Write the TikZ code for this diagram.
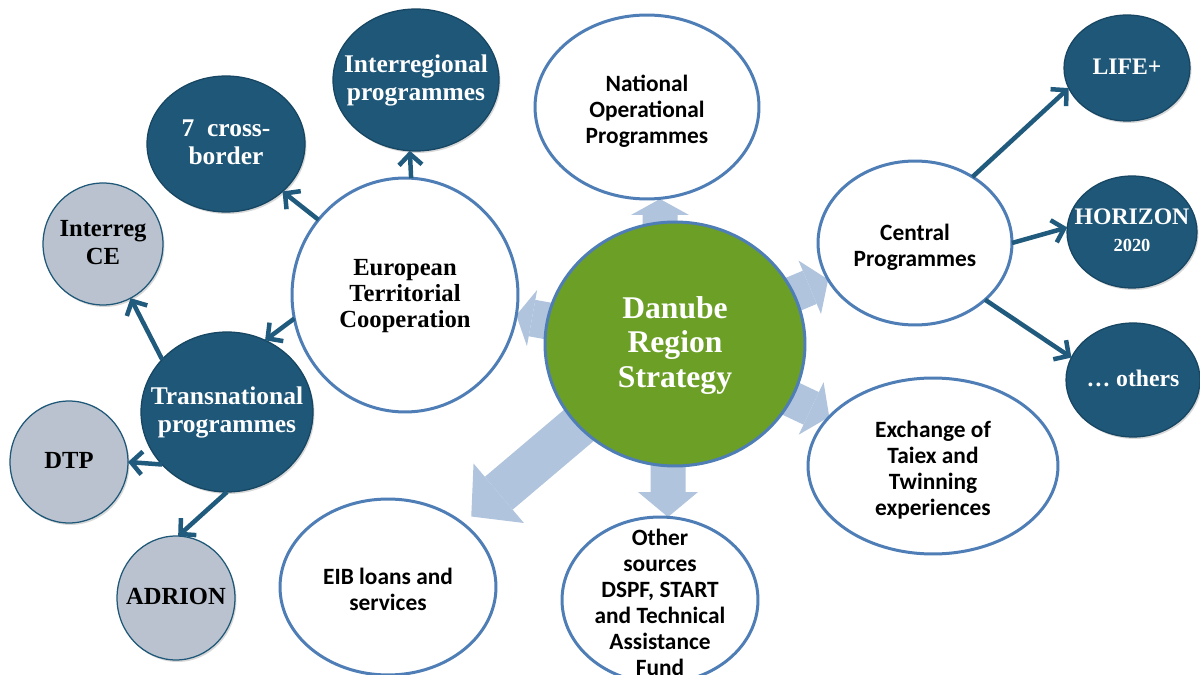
\documentclass[tikz,border=0pt]{standalone}
\usepackage{fontspec}
\setmainfont{Liberation Serif}
\newfontfamily\calib{Carlito}
\usetikzlibrary{arrows.meta,shapes.geometric,shadows}
\definecolor{darkblue}{HTML}{1E5778}
\definecolor{darkedge}{HTML}{174662}
\definecolor{greyfill}{HTML}{B9C2CE}
\definecolor{greenfill}{HTML}{6B9F26}
\definecolor{ringblue}{HTML}{4F7EB6}
\definecolor{blockblue}{HTML}{B0C4DE}
\definecolor{arrowdark}{HTML}{205A7D}
\pgfdeclarelayer{bg}
\pgfsetlayers{bg,main}
\newcommand\zr{-0.3em}
\newcommand\ztext[1]{\makebox[0pt]{\raisebox{\zr}[0pt][0pt]{\begin{tabular}{@{}c@{}}#1\end{tabular}}}}
\tikzset{
  base/.style={ellipse, inner sep=0pt, outer sep=0pt},
  whitenode/.style={base, draw=ringblue, line width=0.06cm, fill=white, text=black,
    font=\calib\bfseries\fontsize{13.3}{14.8}\selectfont\def\zr{-0.48em}},
  etcnode/.style={base, draw=ringblue, line width=0.06cm, fill=white, text=black,
    font=\bfseries\fontsize{14}{14.8}\selectfont},
  darknode/.style={base, draw=darkedge, line width=0.025cm, fill=darkblue, text=white,
    font=\bfseries\fontsize{14.5}{16}\selectfont,
    drop shadow={opacity=0.3, shadow xshift=0.03cm, shadow yshift=-0.04cm}},
  rightnode/.style={darknode, font=\bfseries\fontsize{13.5}{15.5}\selectfont},
  greynode/.style={base, draw=darkblue, line width=0.025cm, fill=greyfill, text=black,
    font=\bfseries\fontsize{14}{16}\selectfont,
    drop shadow={opacity=0.3, shadow xshift=0.03cm, shadow yshift=-0.04cm}},
  centrenode/.style={base, draw=ringblue, line width=0.06cm, fill=greenfill, text=white,
    font=\bfseries\fontsize{18}{19.5}\selectfont},
  blockarrow/.style n args={3}{draw=blockblue, line width=#1,
    -{Triangle[length=#2, width=#3, line width=0pt]}},
  conn/.style={draw=arrowdark, line width=0.09cm,
    -{Straight Barb[length=0.22cm, width=0.46cm]}}
}
\begin{document}
\begin{tikzpicture}[x=0.02cm,y=-0.02cm]
\useasboundingbox (0,0) rectangle (1200,675);
\clip (0,0) rectangle (1200,675);

% central node
\node[centrenode, minimum width=5.2cm, minimum height=4.88cm] (dan) at (675,344) {\ztext{Danube\\Region\\Strategy}};

% white nodes
\node[etcnode, minimum width=4.52cm, minimum height=4.68cm] (etc) at (405,295) {\ztext{European\\Territorial\\Cooperation}};
\node[whitenode, minimum width=4.48cm, minimum height=3.68cm] (nat) at (647,107) {\ztext{National\\Operational\\Programmes}};
\node[whitenode, minimum width=3.88cm, minimum height=3.28cm] (cen) at (915,243) {\ztext{Central\\Programmes}};
\node[whitenode, minimum width=5.0cm, minimum height=3.52cm] (exch) at (933,466) {\ztext{Exchange of\\Taiex and\\Twinning\\experiences}};
\node[whitenode, minimum width=4.32cm, minimum height=3.52cm] (eib) at (388,587) {\ztext{EIB loans and\\services}};
\node[whitenode, minimum width=3.92cm, minimum height=3.32cm] (src) at (660,600) {\ztext{Other\\sources\\DSPF, START\\and Technical\\Assistance\\Fund}};

% dark nodes
\node[darknode, minimum width=3.32cm, minimum height=2.84cm] (inter) at (416,80) {\ztext{Interregional\\programmes}};
\node[darknode, minimum width=3.16cm, minimum height=2.72cm] (cross) at (226,144) {\ztext{7\enspace cross-\\border}};
\node[darknode, minimum width=3.44cm, minimum height=3.2cm] (trans) at (227,412) {\ztext{Transnational\\programmes}};
\node[rightnode, minimum width=2.52cm, minimum height=2.12cm] (life) at (1127,68) {\ztext{LIFE+}};
\node[rightnode, minimum width=2.6cm, minimum height=2.24cm] (hor) at (1132,232) {\ztext{HORIZON\\{\fontsize{10.5}{12}\selectfont 2020}}};
\node[rightnode, minimum width=2.68cm, minimum height=2.28cm] (oth) at (1133,380) {\ztext{\dots{} others}};

% grey nodes
\node[greynode, minimum width=2.4cm, minimum height=2.44cm] (ce) at (103,244) {\ztext{Interreg\\CE}};
\node[greynode, minimum width=2.36cm, minimum height=2.44cm] (dtp) at (69,462) {\ztext{DTP}};
\node[greynode, minimum width=2.36cm, minimum height=2.48cm] (adrion) at (176,598) {\ztext{ADRION}};

% block arrows
\begin{pgfonlayer}{bg}
\fill[white] (0,0) rectangle (1200,675);
\draw[blockarrow={0.7cm}{0.32cm}{1.16cm}] ([xshift=-0.3cm]dan.center) -- ([xshift=0.26cm]nat.south);
\draw[blockarrow={0.74cm}{0.32cm}{1.14cm}] (dan.center) -- (etc);
\draw[blockarrow={0.72cm}{0.4cm}{1.16cm}] (dan.center) -- (cen);
\draw[blockarrow={0.72cm}{0.4cm}{1.16cm}] (dan.center) -- (exch);
\draw[blockarrow={0.7cm}{0.5cm}{1.2cm}] ([xshift=-0.14cm]dan.center) -- ([xshift=0.16cm]src.north);
\draw[blockarrow={0.86cm}{0.72cm}{1.56cm}, shorten >=0.22cm] (dan.center) -- (eib);
\end{pgfonlayer}

% dark connectors
\draw[conn] (etc.87) -- (inter.265);
\draw[conn] (etc.139) -- (cross.320);
\draw[conn] (etc.192) -- (trans.62);
\draw[conn] (trans.141) -- (ce.297);
\draw[conn] (trans.219) -- (dtp.0);
\draw[conn] (trans.270) -- (adrion.88);
\draw[conn] (cen.49) -- (life.199);
\draw[conn] (cen.0) -- (hor.176);
\draw[conn] (cen.321) -- (oth.160);
\end{tikzpicture}
\end{document}
